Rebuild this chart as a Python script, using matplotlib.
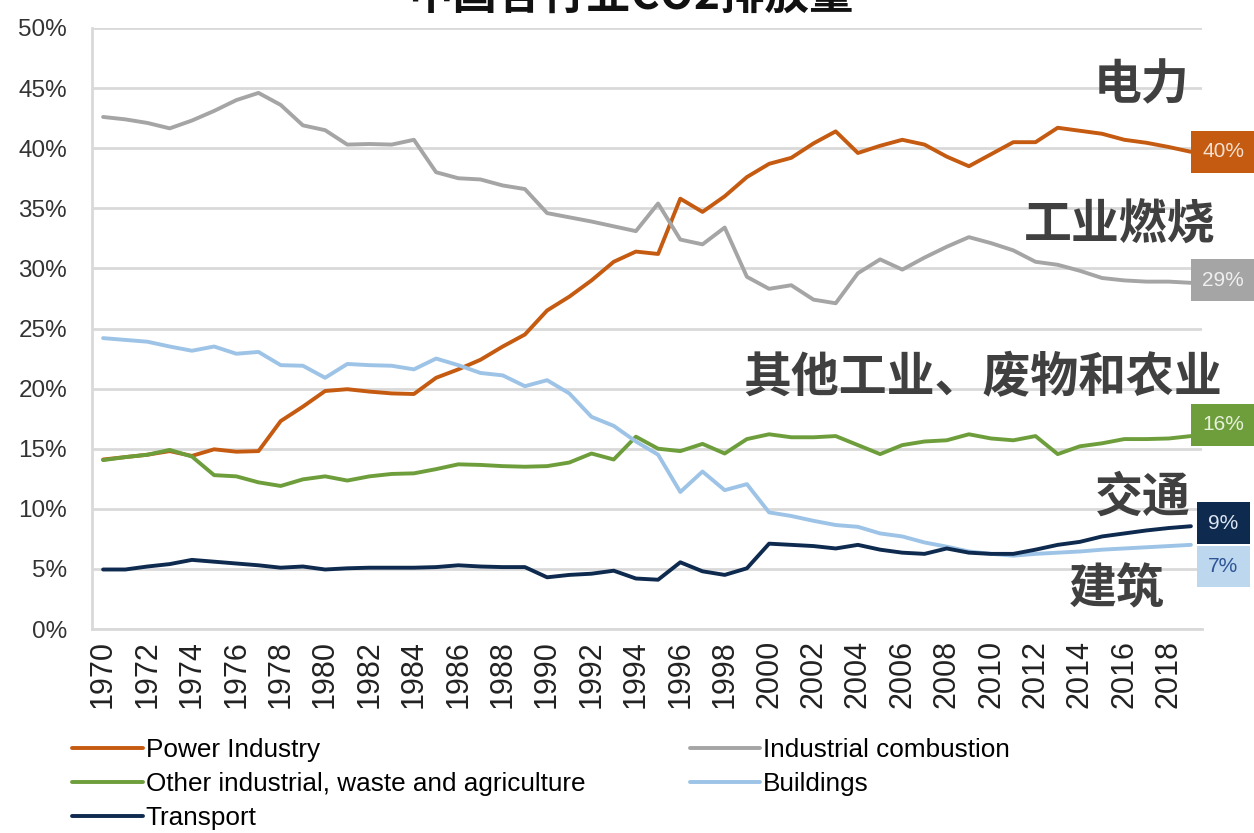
import matplotlib
matplotlib.use("Agg")
import matplotlib.pyplot as plt
from matplotlib.ticker import FuncFormatter, MultipleLocator

years = list(range(1970, 2020))

power = [14.1, 14.3, 14.5, 14.8, 14.4, 14.95, 14.75, 14.8, 17.3, 18.5,
         19.8, 19.95, 19.75, 19.6, 19.55, 20.9, 21.6, 22.4, 23.5, 24.5,
         26.5, 27.65, 29.0, 30.55, 31.4, 31.2, 35.8, 34.7, 36.0, 37.6,
         38.7, 39.2, 40.4, 41.4, 39.6, 40.2, 40.7, 40.3, 39.3, 38.5,
         39.5, 40.5, 40.5, 41.7, 41.45, 41.2, 40.7, 40.45, 40.1, 39.7]

industrial = [42.6, 42.4, 42.1, 41.65, 42.3, 43.1, 44.0, 44.6, 43.6, 41.9,
              41.5, 40.3, 40.35, 40.3, 40.7, 38.0, 37.5, 37.4, 36.9, 36.6,
              34.6, 34.25, 33.9, 33.5, 33.1, 35.4, 32.4, 32.0, 33.4, 29.3,
              28.3, 28.6, 27.4, 27.1, 29.6, 30.75, 29.9, 30.9, 31.8, 32.6,
              32.1, 31.5, 30.55, 30.3, 29.8, 29.2, 29.0, 28.9, 28.9, 28.8]

other = [14.05, 14.3, 14.5, 14.9, 14.35, 12.8, 12.7, 12.2, 11.9, 12.45,
         12.7, 12.35, 12.7, 12.9, 12.95, 13.3, 13.7, 13.65, 13.55, 13.5,
         13.55, 13.85, 14.6, 14.1, 16.0, 15.0, 14.8, 15.4, 14.6, 15.8,
         16.2, 15.95, 15.95, 16.05, 15.3, 14.55, 15.3, 15.6, 15.7, 16.2,
         15.85, 15.7, 16.05, 14.55, 15.2, 15.45, 15.8, 15.8, 15.85, 16.05]

buildings = [24.2, 24.05, 23.9, 23.5, 23.15, 23.5, 22.9, 23.05, 21.95, 21.9,
             20.9, 22.05, 21.95, 21.9, 21.6, 22.5, 21.95, 21.3, 21.1, 20.2,
             20.7, 19.6, 17.65, 16.9, 15.6, 14.5, 11.4, 13.1, 11.55, 12.05,
             9.7, 9.4, 9.0, 8.65, 8.5, 7.95, 7.7, 7.2, 6.85, 6.45,
             6.25, 6.1, 6.25, 6.35, 6.45, 6.6, 6.7, 6.8, 6.9, 7.0]

transport = [4.95, 4.95, 5.2, 5.4, 5.75, 5.6, 5.45, 5.3, 5.1, 5.2,
             4.95, 5.05, 5.1, 5.1, 5.1, 5.15, 5.3, 5.2, 5.15, 5.15,
             4.3, 4.5, 4.6, 4.85, 4.2, 4.1, 5.55, 4.8, 4.5, 5.05,
             7.1, 7.0, 6.9, 6.7, 7.0, 6.6, 6.35, 6.25, 6.7, 6.35,
             6.25, 6.25, 6.6, 7.0, 7.25, 7.7, 7.95, 8.2, 8.4, 8.55]

series_names = ["Power Industry", "Industrial combustion",
                "Other industrial, waste and agriculture", "Buildings", "Transport"]
end_labels = ["40%", "29%", "16%", "7%", "9%"]
cn_labels = ["电力", "工业燃烧", "其他工业、废物和农业", "建筑", "交通"]
title_text = "中国各行业CO2排放量"

colors = ["#C55A11", "#A5A5A5", "#6E9E3C", "#9DC3E6", "#0E2A4F"]
box_colors = ["#C55A11", "#A5A5A5", "#6E9E3C", "#BDD7EE", "#0E2A4F"]
box_text_colors = ["#F3E0D0", "#EFEFEF", "#E6F0DA", "#2F5597", "#DCE6F2"]

plt.rcParams['font.family'] = ['Liberation Sans', 'DejaVu Sans']
CJK = ['Noto Sans CJK SC', 'DejaVu Sans']

fig = plt.figure(figsize=(12.54, 8.33), dpi=100)
fig.patch.set_facecolor("white")
ax = fig.add_axes([92/1254, 1 - 629/833, (1202 - 92)/1254, (629 - 28)/833])

data = [power, industrial, other, buildings, transport]
for vals, name, c in zip(data, series_names, colors):
    ax.plot(years, vals, color=c, lw=2.8, label=name, solid_capstyle='round')

ax.set_xlim(1969.5, 2019.5)
ax.set_ylim(0, 50)
ax.yaxis.set_major_locator(MultipleLocator(5))
ax.yaxis.set_major_formatter(FuncFormatter(lambda v, p: f"{int(round(v))}%"))
ax.set_xticks(years[::2])
ax.set_xticklabels([str(y) for y in years[::2]], rotation=90)
ax.tick_params(axis='x', labelsize=22, length=0, pad=8, colors="#222222")
ax.tick_params(axis='y', labelsize=17.5, length=0, pad=18, colors="#333333")
ax.grid(axis='y', color="#D9D9D9", lw=2)
ax.set_axisbelow(True)
for s in ['top', 'right']:
    ax.spines[s].set_visible(False)
for s in ['left', 'bottom']:
    ax.spines[s].set_color("#D9D9D9")
    ax.spines[s].set_linewidth(2)

# end-value boxes
box_y = [39.7, 29.0, 17.0, 5.2, 8.8]
for lab, yv, bc, tc in zip(end_labels, box_y, box_colors, box_text_colors):
    ax.text(2020.45, yv, lab, ha='center', va='center', fontsize=15, color=tc,
            clip_on=False, zorder=5,
            bbox=dict(boxstyle='square,pad=0.55', fc=bc, ec='none'))

# Chinese series labels
cn_pos = [(2018.95, 45.3), (2020.1, 33.6), (2020.4, 20.9), (2017.8, 3.3), (2019.0, 11.0)]
for lab, (xv, yv) in zip(cn_labels, cn_pos):
    ax.text(xv, yv, lab, ha='right', va='center', fontsize=34.5, color="#404040",
            family=CJK, fontweight='bold', clip_on=False, zorder=4)

fig.text(0.503, 1 - 19/833, title_text, ha='center', va='bottom', fontsize=32,
         family=CJK, fontweight='bold', color="#111111")

handles, labels = ax.get_legend_handles_labels()
order = [0, 2, 4, 1, 3]
fig.legend([handles[i] for i in order], [labels[i] for i in order],
           loc='upper left', bbox_to_anchor=(72/1254, 1 - 738/833), ncol=2,
           frameon=False, fontsize=18.8, handlelength=2.7, handletextpad=0.12,
           columnspacing=4.0, labelspacing=0.38, borderaxespad=0, borderpad=0)

fig.savefig("out.png", dpi=100, facecolor="white")
